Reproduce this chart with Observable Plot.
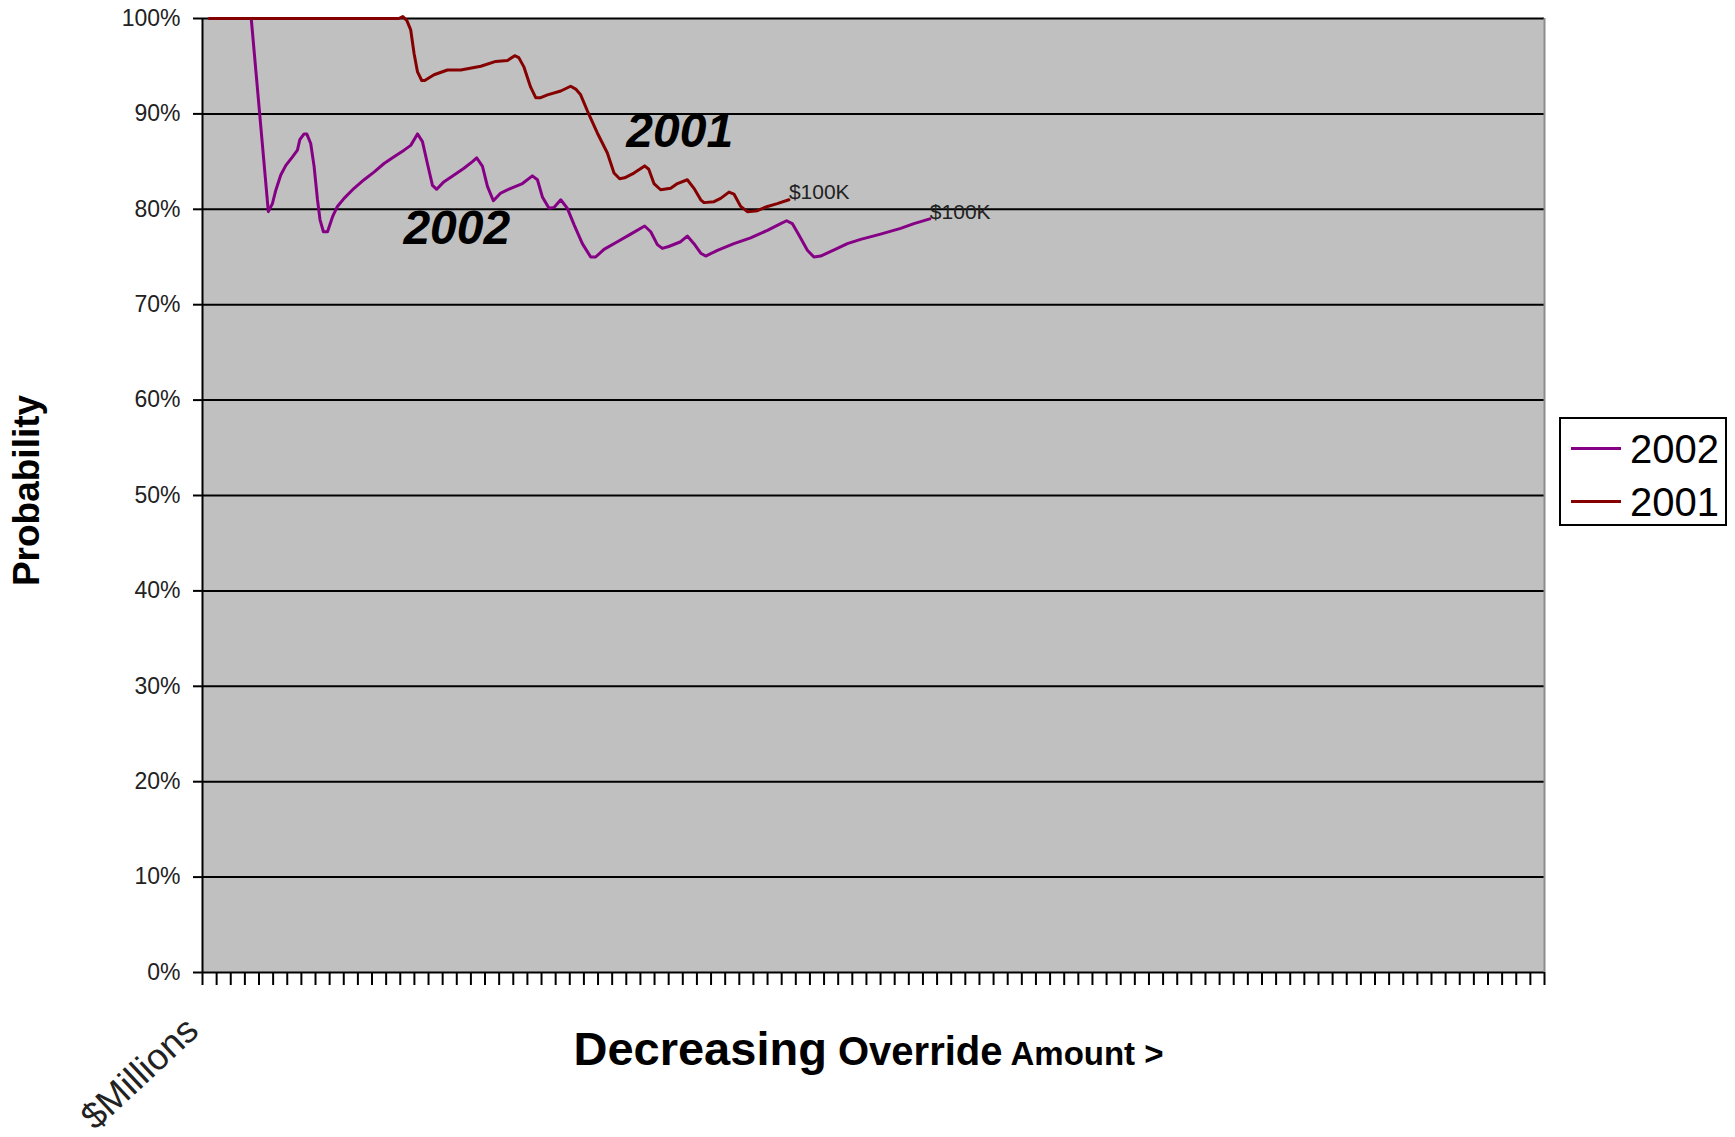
<!DOCTYPE html>
<html>
<head>
<meta charset="utf-8">
<script src="https://cdn.jsdelivr.net/npm/d3@7"></script>
<script src="https://cdn.jsdelivr.net/npm/@observablehq/plot@0.6"></script>
<style>
  body { margin: 0; background: #fff; }
  #wrap { position: relative; width: 1735px; height: 1137px; }
  #legend { position: absolute; left: 1559px; top: 417px; width: 164px; height: 105px;
            border: 2px solid #000; background: #fff; font-family: Arial, "Liberation Sans", sans-serif; }
  #legend .sw { position: absolute; left: 10px; width: 50px; height: 3px; }
  #legend .lb { position: absolute; left: 69px; font-size: 40px; line-height: 40px; color: #000; }
</style>
</head>
<body>
<div id="wrap"></div>
<script>
// ---- data (x in category-tick units, y in percent) ----
const x2002 = [0.50, 3.45, 4.66, 4.95, 5.19, 5.54, 5.90, 6.37, 6.72, 6.89, 7.19, 7.38, 7.66, 7.90, 8.14, 8.32, 8.56, 8.85,
  9.20, 9.55, 10.02, 10.73, 11.44, 12.14, 12.85, 13.56, 14.27, 14.74, 15.22, 15.57, 15.92, 16.28, 16.58, 17.10, 17.81,
  18.51, 19.11, 19.41, 19.82, 20.17, 20.59, 21.11, 21.82, 22.65, 23.35, 23.71, 24.06, 24.53, 24.88, 25.36, 25.83, 26.30,
  26.89, 27.48, 27.83, 28.42, 29.37, 30.31, 31.30, 31.73, 32.20, 32.55, 33.00, 33.85, 34.32, 34.79, 35.27, 35.62, 36.45,
  37.62, 38.80, 39.99, 40.93, 41.35, 41.75, 42.22, 42.82, 43.28, 43.76, 44.94, 45.65, 46.59, 48.00, 49.42, 50.36, 51.49];
const y2002 = [100, 100, 79.75, 80.6, 82.0, 83.6, 84.6, 85.5, 86.2, 87.3, 87.9, 87.9, 86.9, 84.5, 81.0, 78.9, 77.65, 77.65,
  79.2, 80.3, 81.15, 82.2, 83.1, 83.9, 84.8, 85.5, 86.2, 86.7, 87.9, 87.1, 84.8, 82.5, 82.1, 82.9, 83.6,
  84.3, 85.0, 85.4, 84.5, 82.4, 80.9, 81.7, 82.2, 82.7, 83.5, 83.1, 81.3, 80.1, 80.2, 81.0, 80.1, 78.4,
  76.4, 75.0, 75.0, 75.8, 76.6, 77.4, 78.25, 77.65, 76.3, 75.9, 76.1, 76.6, 77.2, 76.4, 75.4, 75.1, 75.7,
  76.4, 77.0, 77.8, 78.5, 78.8, 78.5, 77.3, 75.7, 75.0, 75.1, 75.9, 76.4, 76.85, 77.4, 78.0, 78.5, 79.0];

const x2001 = [0.50, 13.89, 14.18, 14.46, 14.74, 14.98, 15.22, 15.52, 15.73, 16.39, 17.34, 18.28, 19.70, 20.76, 21.59,
  22.10, 22.39, 22.76, 23.23, 23.59, 23.94, 24.42, 25.36, 26.06, 26.42, 26.77, 27.25, 27.95, 28.66, 29.13, 29.53,
  29.88, 30.54, 31.30, 31.59, 31.96, 32.43, 33.14, 33.62, 34.32, 34.79, 35.27, 35.50, 36.21, 36.68, 37.27, 37.62,
  38.10, 38.57, 39.28, 39.99, 40.69, 41.51];
const y2001 = [100, 100, 100.2, 99.8, 98.8, 96.3, 94.4, 93.5, 93.5, 94.1, 94.6, 94.6, 95.0, 95.5, 95.6,
  96.1, 95.9, 94.9, 92.8, 91.7, 91.7, 92.0, 92.4, 92.9, 92.6, 92.0, 90.3, 88.0, 85.9, 83.8, 83.2,
  83.3, 83.8, 84.55, 84.2, 82.7, 82.05, 82.2, 82.7, 83.1, 82.2, 81.0, 80.7, 80.8, 81.15, 81.8, 81.6,
  80.3, 79.75, 79.85, 80.3, 80.6, 81.0];

const seriesNames = ["2002", "2001"];
const seriesColors = ["#850085", "#850000"];
const yTicks = [0, 10, 20, 30, 40, 50, 60, 70, 80, 90, 100];
const xCategoryCount = 95;
const xTicks = d3.range(0, xCategoryCount + 1);
const endLabel = "$100K";
const firstCategoryLabel = "$Millions";
const yTitle = "Probability";
const xTitleParts = ["Decreasing", "Override", "Amount >"];
const xTitleSizes = [47, 40, 33];
const inlineLabels = [
  {label: "2001", x: 33.78, y: 88.1},
  {label: "2002", x: 18.0, y: 77.96}
];

// ---- build tables ----
const rows2002 = x2002.map((x, i) => ({series: seriesNames[0], x, y: y2002[i]}));
const rows2001 = x2001.map((x, i) => ({series: seriesNames[1], x, y: y2001[i]}));
const ends = [rows2002[rows2002.length - 1], rows2001[rows2001.length - 1]];

const font = 'Arial, "Liberation Sans", sans-serif';

const chart = Plot.plot({
  width: 1735,
  height: 1137,
  marginLeft: 202,
  marginRight: 191,
  marginTop: 18,
  marginBottom: 165,
  style: {fontFamily: font, background: "#fff", color: "#000", overflow: "visible"},
  x: {domain: [0, xCategoryCount], label: null},
  y: {domain: [0, 100], label: null},
  marks: [
    Plot.frame({fill: "#c0c0c0", stroke: null}),
    Plot.ruleY(yTicks, {stroke: "#000", strokeWidth: 2}),
    Plot.ruleX([xCategoryCount], {stroke: "#8c8c8c", strokeWidth: 2}),
    Plot.axisY({ticks: yTicks, tickFormat: d => d + "%", tickSize: 9, tickPadding: 13,
                fontSize: 23, stroke: "#000", strokeWidth: 2, color: "#222", label: null}),
    Plot.axisX({ticks: xTicks, tickSize: 13, tickFormat: () => "", stroke: "#000", strokeWidth: 2, label: null}),
    Plot.ruleX([0], {stroke: "#000", strokeWidth: 2}),
    Plot.line(rows2002, {x: "x", y: "y", stroke: seriesColors[0], strokeWidth: 3, strokeLinejoin: "round"}),
    Plot.line(rows2001, {x: "x", y: "y", stroke: seriesColors[1], strokeWidth: 3, strokeLinejoin: "round"}),
    Plot.text(ends, {x: "x", y: "y", text: () => endLabel, textAnchor: "start", dx: 0, dy: -7,
                     fontSize: 21, fill: "#222"}),
    Plot.text(inlineLabels, {x: "x", y: "y", text: "label", fontSize: 48, fontWeight: "bold",
                             fontStyle: "italic", fill: "#000"}),
    Plot.text([yTitle], {frameAnchor: "left", textAnchor: "middle", lineAnchor: "middle", rotate: -90,
                         dx: -175, dy: -5, fontSize: 37, fontWeight: "bold", fill: "#000"}),
    Plot.text([firstCategoryLabel], {frameAnchor: "bottom-left", rotate: -43, textAnchor: "end",
                                     lineAnchor: "middle", dx: -10, dy: 52, fontSize: 37, fill: "#222"}),
    Plot.text([xTitleParts.join(" ")], {frameAnchor: "bottom", textAnchor: "middle", lineAnchor: "middle",
                                        dx: -5, dy: 77, fontSize: xTitleSizes[0], fontWeight: "bold", fill: "#000"})
  ]
});

// mixed-size x title
const svgNS = "http://www.w3.org/2000/svg";
const full = xTitleParts.join(" ");
for (const t of chart.querySelectorAll("text")) {
  if (t.textContent === full) {
    t.textContent = "";
    xTitleParts.forEach((p, i) => {
      const ts = document.createElementNS(svgNS, "tspan");
      ts.textContent = (i ? " " : "") + p;
      ts.setAttribute("font-size", xTitleSizes[i]);
      t.appendChild(ts);
    });
  }
}

const wrap = document.getElementById("wrap");
wrap.appendChild(chart);

// legend
const legend = document.createElement("div");
legend.id = "legend";
const entryCenters = [31, 84];
seriesNames.forEach((name, i) => {
  const sw = document.createElement("div");
  sw.className = "sw";
  sw.style.top = (entryCenters[i] - 3) + "px";
  sw.style.background = seriesColors[i];
  const lb = document.createElement("div");
  lb.className = "lb";
  lb.style.top = (entryCenters[i] - 21.5) + "px";
  lb.textContent = name;
  legend.appendChild(sw);
  legend.appendChild(lb);
});
wrap.appendChild(legend);
</script>
</body>
</html>
